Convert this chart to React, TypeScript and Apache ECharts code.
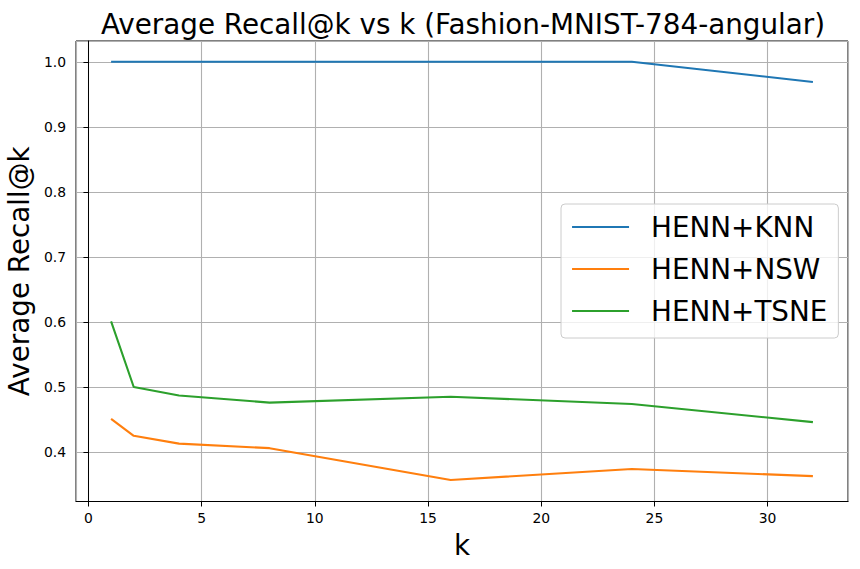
import React, { useEffect, useRef } from "react";
import * as echarts from "echarts";

const kValues = [1, 2, 4, 8, 16, 24, 32];
const knnRecall = [1.0, 1.0, 1.0, 1.0, 1.0, 1.0, 0.969];
const nswRecall = [0.451, 0.425, 0.413, 0.406, 0.357, 0.374, 0.363];
const tsneRecall = [0.601, 0.5, 0.487, 0.476, 0.485, 0.474, 0.446];
const seriesNames = ["HENN+KNN", "HENN+NSW", "HENN+TSNE"];
const colors = ["#1f77b4", "#ff7f0e", "#2ca02c"];

const FONT = "DejaVu Sans";

export default function App() {
  const ref = useRef<HTMLDivElement>(null);
  useEffect(() => {
    if (!ref.current) return;
    const chart = echarts.init(ref.current, null, { renderer: "svg" });
    const all = [knnRecall, nswRecall, tsneRecall];
    chart.setOption({
      animation: false,
      backgroundColor: "#ffffff",
      textStyle: { fontFamily: FONT },
      title: {
        text: "Average Recall@k vs k (Fashion-MNIST-784-angular)",
        left: 458,
        textAlign: "center",
        top: 5,
        textStyle: { fontFamily: FONT, fontSize: 27.8, fontWeight: "normal", color: "#000" },
      },
      legend: {
        orient: "vertical",
        left: 561,
        top: 204,
        padding: [8, 11, 12, 10],
        itemWidth: 57,
        itemHeight: 20,
        itemGap: 12,
        backgroundColor: "rgba(255,255,255,0.8)",
        borderColor: "#cccccc",
        borderWidth: 1,
        borderRadius: 4,
        itemStyle: { opacity: 0 },
        lineStyle: { width: 2.1 },
        textStyle: { fontFamily: FONT, fontSize: 27.8, color: "#000", lineHeight: 30, padding: [0, 0, 0, 17] },
        data: seriesNames,
      },
      grid: {
        left: 76,
        right: 12,
        top: 41,
        bottom: 67.5,
        outerBoundsMode: "none",
        containLabel: false,
        show: true,
        borderColor: "#000",
        borderWidth: 1,
        backgroundColor: "transparent",
      },
      xAxis: {
        type: "value",
        min: -0.55,
        max: 33.55,
        splitNumber: 7,
        name: "k",
        nameLocation: "middle",
        nameGap: 30,
        nameTextStyle: { fontFamily: FONT, fontSize: 27.8, color: "#000" },
        axisLine: { show: true, lineStyle: { color: "#000", width: 1 } },
        axisTick: { show: true, length: 5, inside: false, lineStyle: { color: "#000" } },
        axisLabel: { fontFamily: FONT, fontSize: 13.9, color: "#000", margin: 9, showMinLabel: false, showMaxLabel: false },
        splitLine: { show: true, lineStyle: { color: "#b0b0b0", width: 1.1 } },
      },
      yAxis: {
        type: "value",
        min: 0.324,
        max: 1.032,
        splitNumber: 7,
        name: "Average Recall@k",
        nameLocation: "middle",
        nameGap: 40,
        nameTextStyle: { fontFamily: FONT, fontSize: 27.8, color: "#000" },
        axisLine: { show: true, lineStyle: { color: "#000", width: 1 } },
        axisTick: { show: true, length: 5, inside: false, lineStyle: { color: "#000" } },
        axisLabel: {
          fontFamily: FONT,
          fontSize: 13.9,
          color: "#000",
          margin: 10,
          showMinLabel: false,
          showMaxLabel: false,
          formatter: (v: number) => v.toFixed(1),
        },
        splitLine: { show: true, lineStyle: { color: "#b0b0b0", width: 1.1 } },
      },
      series: seriesNames.map((name, i) => ({
        name,
        type: "line",
        symbol: "none",
        data: kValues.map((k, j) => [k, all[i][j]]),
        lineStyle: { color: colors[i], width: 2.1 },
        itemStyle: { color: colors[i] },
      })),
    });
    return () => chart.dispose();
  }, []);
  return <div ref={ref} style={{ width: 860, height: 569, position: "absolute", left: 0, top: 0 }} />;
}
